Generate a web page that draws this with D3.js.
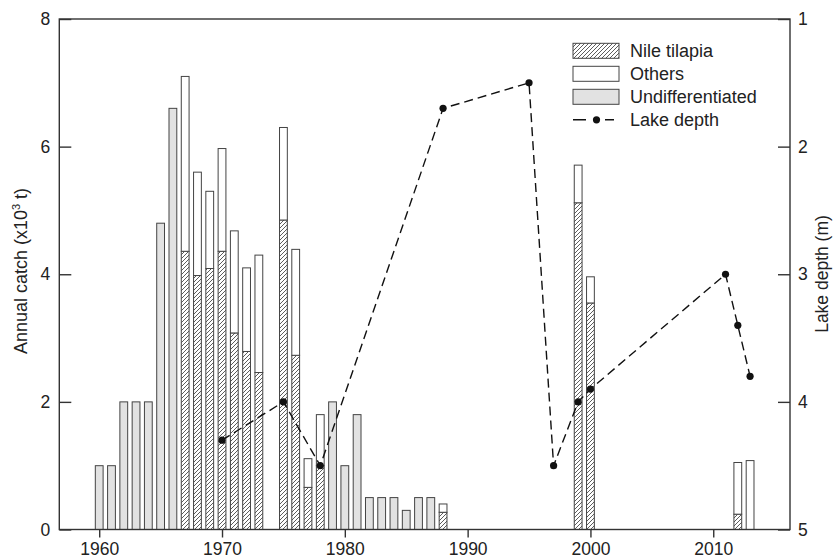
<!DOCTYPE html>
<html>
<head>
<meta charset="utf-8">
<script src="https://cdn.jsdelivr.net/npm/d3@7"></script>
<style>
  html, body { margin: 0; padding: 0; background: #fff; }
  svg { display: block; }
  text { font-family: "Liberation Sans", Arial, sans-serif; fill: #222; }
</style>
</head>
<body>
<svg id="chart" width="833" height="559"></svg>
<script>
// ---- data ----
const undiffYears = [1960, 1961, 1962, 1963, 1964, 1965, 1966, 1979, 1980, 1981, 1982, 1983, 1984, 1985, 1986, 1987];
const undiffCatch = [1.0, 1.0, 2.0, 2.0, 2.0, 4.8, 6.6, 2.0, 1.0, 1.8, 0.5, 0.5, 0.5, 0.3, 0.5, 0.5];

const splitYears   = [1967, 1968, 1969, 1970, 1971, 1972, 1973, 1975, 1976, 1977, 1978, 1988, 1999, 2000, 2012, 2013];
const tilapiaCatch = [4.36, 3.98, 4.09, 4.36, 3.08, 2.79, 2.46, 4.85, 2.73, 0.66, 1.00, 0.27, 5.12, 3.55, 0.24, 0.00];
const othersCatch  = [2.74, 1.62, 1.21, 1.61, 1.60, 1.31, 1.84, 1.45, 1.66, 0.45, 0.80, 0.13, 0.59, 0.41, 0.81, 1.08];

const depthYears = [1970, 1975, 1978, 1988, 1995, 1997, 1999, 2000, 2011, 2012, 2013];
const lakeDepth  = [4.3, 4.0, 4.5, 1.7, 1.5, 4.5, 4.0, 3.9, 3.0, 3.4, 3.8];

const xTicks = [1960, 1970, 1980, 1990, 2000, 2010];
const yTicks = [0, 2, 4, 6, 8];
const depthTicks = [1, 2, 3, 4, 5];

const legendItems = ["Nile tilapia", "Others", "Undifferentiated", "Lake depth"];

// ---- layout ----
const svg = d3.select("#chart");
const L = 59.3, R = 790, T = 19, B = 529.5;
const x = d3.scaleLinear().domain([1956.75, 2016.25]).range([L, R]);
const y = d3.scaleLinear().domain([0, 8]).range([B, T]);
const yD = d3.scaleLinear().domain([1, 5]).range([T, B]);
const barW = 7.8;
const ink = "#333";

const defs = svg.append("defs");
const pat = defs.append("pattern").attr("id", "hatch")
  .attr("patternUnits", "userSpaceOnUse").attr("width", 4).attr("height", 4);
pat.append("rect").attr("width", 4).attr("height", 4).attr("fill", "#fff");
pat.append("path").attr("d", "M-1,1 l2,-2 M0,4 l4,-4 M3,5 l2,-2")
  .attr("stroke", "#333").attr("stroke-width", 0.8);

// bars: undifferentiated
svg.append("g").selectAll("rect").data(undiffYears.map((yr, i) => ({yr, v: undiffCatch[i]})))
  .join("rect")
  .attr("x", d => x(d.yr) - barW / 2).attr("width", barW)
  .attr("y", d => y(d.v)).attr("height", d => y(0) - y(d.v))
  .attr("fill", "#e2e2e2").attr("stroke", "#444").attr("stroke-width", 1);

// bars: split (tilapia bottom, others top)
const split = splitYears.map((yr, i) => ({yr, t: tilapiaCatch[i], o: othersCatch[i]}));
const gs = svg.append("g");
gs.selectAll("rect.til").data(split.filter(d => d.t > 0)).join("rect").attr("class", "til")
  .attr("x", d => x(d.yr) - barW / 2).attr("width", barW)
  .attr("y", d => y(d.t)).attr("height", d => y(0) - y(d.t))
  .attr("fill", "url(#hatch)").attr("stroke", "#444").attr("stroke-width", 1);
gs.selectAll("rect.oth").data(split.filter(d => d.o > 0)).join("rect").attr("class", "oth")
  .attr("x", d => x(d.yr) - barW / 2).attr("width", barW)
  .attr("y", d => y(d.t + d.o)).attr("height", d => y(d.t) - y(d.t + d.o))
  .attr("fill", "#fff").attr("stroke", "#444").attr("stroke-width", 1);

// lake depth line
const depth = depthYears.map((yr, i) => ({yr, d: lakeDepth[i]}));
svg.append("path").datum(depth)
  .attr("d", d3.line().x(d => x(d.yr)).y(d => yD(d.d)))
  .attr("fill", "none").attr("stroke", "#111").attr("stroke-width", 1.4)
  .attr("stroke-dasharray", "9,5");
svg.append("g").selectAll("circle").data(depth).join("circle")
  .attr("cx", d => x(d.yr)).attr("cy", d => yD(d.d)).attr("r", 3.6).attr("fill", "#111");

// frame
svg.append("rect").attr("x", L).attr("y", T).attr("width", R - L).attr("height", B - T)
  .attr("fill", "none").attr("stroke", ink).attr("stroke-width", 1.4);

// axes
function styleAxis(g) {
  g.select(".domain").remove();
  g.selectAll(".tick line").attr("stroke", ink).attr("stroke-width", 1.4);
  g.selectAll(".tick text").attr("fill", "#222").style("font-size", "17.5px")
    .style("font-family", '"Liberation Sans", Arial, sans-serif');
}
svg.append("g").attr("transform", `translate(0,${B})`)
  .call(d3.axisBottom(x).tickValues(xTicks).tickFormat(d3.format("d")).tickSize(8).tickPadding(5.5))
  .call(styleAxis);
svg.append("g").attr("transform", `translate(${L},0)`)
  .call(d3.axisLeft(y).tickValues(yTicks).tickFormat(d3.format("d")).tickSizeInner(-12).tickSizeOuter(0).tickPadding(9))
  .call(styleAxis);
svg.append("g").attr("transform", `translate(${R},0)`)
  .call(d3.axisRight(yD).tickValues(depthTicks).tickFormat(d3.format("d")).tickSizeInner(-12).tickSizeOuter(0).tickPadding(8))
  .call(styleAxis);

// axis titles
const lt = svg.append("text").attr("transform", "translate(27,271) rotate(-90)")
  .attr("text-anchor", "middle").style("font-size", "18px");
lt.append("tspan").text("Annual catch (x10");
lt.append("tspan").text("3").style("font-size", "11px").attr("dy", -7);
lt.append("tspan").text(" t)").attr("dy", 7);

svg.append("text").attr("transform", "translate(828,274) rotate(-90)")
  .attr("text-anchor", "middle").style("font-size", "17.5px").text("Lake depth (m)");

// legend
const lg = svg.append("g");
const lx = 573, lw = 46, lh = 15, ly0 = 50.8, lstep = 23;
const fills = ["url(#hatch)", "#fff", "#e2e2e2"];
legendItems.forEach((name, i) => {
  const cy = ly0 + i * lstep;
  if (i < 3) {
    lg.append("rect").attr("x", lx).attr("y", cy - lh / 2).attr("width", lw).attr("height", lh)
      .attr("fill", fills[i]).attr("stroke", "#444").attr("stroke-width", 1);
  } else {
    lg.append("line").attr("x1", lx).attr("x2", lx + 41).attr("y1", cy).attr("y2", cy)
      .attr("stroke", "#111").attr("stroke-width", 1.4).attr("stroke-dasharray", "13,19");
    lg.append("circle").attr("cx", lx + 23.5).attr("cy", cy).attr("r", 3.6).attr("fill", "#111");
  }
  lg.append("text").attr("x", 630).attr("y", cy + 6.5).style("font-size", "18px").text(name);
});
</script>
</body>
</html>
